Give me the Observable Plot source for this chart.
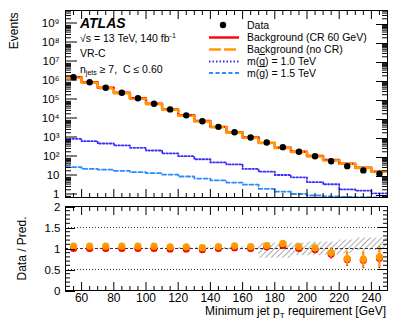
<!DOCTYPE html>
<html><head><meta charset="utf-8">
<script src="https://cdn.jsdelivr.net/npm/d3@7"></script>
<script src="https://cdn.jsdelivr.net/npm/@observablehq/plot@0.6"></script>
<style>
body{margin:0;background:#fff}
#wrap{position:relative;width:407px;height:325px;font-family:"Liberation Sans",Arial,Helvetica,sans-serif;color:#000;overflow:hidden}
#wrap svg{position:absolute;left:0}
.abs{position:absolute;white-space:nowrap;line-height:1}
</style></head><body><div id="wrap"></div>
<script>
// ---- data ----
const binEdges = [50,60,70,80,90,100,110,120,130,140,150,160,170,180,190,200,210,220,230,240,250];
const binCenters = [55,65,75,85,95,105,115,125,135,145,155,165,175,185,195,205,215,225,235,245];
const dataVals = [1.68e6,9.2e5,4.7e5,2.55e5,1.32e5,6.7e4,3.4e4,1.65e4,8.1e3,4.1e3,2.15e3,1.13e3,615,350,200,117,64,35,21,14];
const bgRed    = [1.68e6,9.2e5,4.7e5,2.55e5,1.32e5,6.7e4,3.43e4,1.67e4,8.3e3,4.1e3,2.1e3,1.13e3,590,327,200,120,74,47,29,18];
const bgOrange = [1.6e6,8.7e5,4.45e5,2.42e5,1.25e5,6.35e4,3.27e4,1.59e4,7.95e3,3.92e3,2.02e3,1.08e3,575,312,191,115,71,46,28,17.5];
const sig10    = [960,720,545,430,325,234,163,117,81,55,43,25,18,12,9,5,3.9,2.1,1.8,1.3];
const sig15    = [31,25,23,20,17,15,12.7,10,7.8,6.2,4.8,3.7,2.25,1.6,1.2,1.0,0.9,0.85,0.82,0.8];
const ratioRed    = [1.0,1.0,1.0,1.0,1.0,1.0,0.99,0.99,0.975,1.0,1.02,1.0,1.04,1.07,1.0,0.975,0.87,0.74,0.72,0.77];
const ratioOrange = [1.055,1.055,1.055,1.055,1.055,1.055,1.04,1.04,1.02,1.047,1.063,1.047,1.07,1.12,1.047,1.015,0.905,0.76,0.745,0.80];
const ratioErr    = [0.001,0.001,0.002,0.002,0.003,0.004,0.006,0.008,0.011,0.016,0.022,0.03,0.04,0.054,0.07,0.09,0.12,0.17,0.2,0.25];
const bandLo = [0.995,0.995,0.994,0.992,0.99,0.988,0.985,0.98,0.975,0.97,0.965,0.96,0.77,0.77,0.83,0.83,0.85,0.88,0.95,0.95];
const bandHi = [1.005,1.005,1.006,1.008,1.01,1.012,1.015,1.02,1.025,1.03,1.035,1.04,1.13,1.13,1.13,1.15,1.15,1.2,1.25,1.25];
const yMajorTop = [1,10,1e2,1e3,1e4,1e5,1e6,1e7,1e8,1e9];
const yMinorTop = [0.8,0.9,2,3,4,5,6,7,8,9,20,30,40,50,60,70,80,90,200,300,400,500,600,700,800,900,2e3,3e3,4e3,5e3,6e3,7e3,8e3,9e3,2e4,3e4,4e4,5e4,6e4,7e4,8e4,9e4,2e5,3e5,4e5,5e5,6e5,7e5,8e5,9e5,2e6,3e6,4e6,5e6,6e6,7e6,8e6,9e6,2e7,3e7,4e7,5e7,6e7,7e7,8e7,9e7,2e8,3e8,4e8,5e8,6e8,7e8,8e8,9e8,2e9,3e9,4e9,5e9];
const yTopLabels = ["1","10","10\u00B2","10\u00B3","10\u2074","10\u2075","10\u2076","10\u2077","10\u2078","10\u2079"];
const xMajor = [60,80,100,120,140,160,180,200,220,240];
const xMinor = [50,55,65,70,75,85,90,95,105,110,115,125,130,135,145,150,155,165,170,175,185,190,195,205,210,215,225,230,235,245,250];
const yMajorRatio = [0,0.5,1,1.5,2];
const yRatioLabels = ["0","0.5","1","1.5","2"];
const yMinorRatio = [0.1,0.2,0.3,0.4,0.6,0.7,0.8,0.9,1.1,1.2,1.3,1.4,1.6,1.7,1.8,1.9];

const RED = "#ff0000", ORANGE = "#ff9900", BLUE = "#3b2bff", LBLUE = "#2b8cff";

const rows = binCenters.map((c,i)=>({c, lo:binEdges[i], hi:binEdges[i+1], data:dataVals[i], red:bgRed[i], orange:bgOrange[i], s1:sig10[i], s2:sig15[i], rr:ratioRed[i], ro:ratioOrange[i], err:ratioErr[i], bl:bandLo[i], bh:bandHi[i]}));
function steps(key){ const p = rows.map(r=>({x:r.lo, y:r[key]})); const l = rows[rows.length-1]; p.push({x:l.hi, y:l[key]}); return p; }
const blank = () => "";
const font = {fontFamily:'"Liberation Sans",Arial,Helvetica,sans-serif', fontSize:"12px", background:"transparent", overflow:"visible"};

const topPlot = Plot.plot({
  width:407, height:200, marginLeft:65, marginRight:20, marginTop:10, marginBottom:3,
  style: font,
  x:{domain:[50,250]},
  y:{type:"log", domain:[0.785, 5.46e9]},
  marks:[
    Plot.line(steps("s2"), {x:"x", y:"y", curve:"step-after", stroke:LBLUE, strokeWidth:1.8, strokeDasharray:"4,2.5", clip:true}),
    Plot.line(steps("s1"), {x:"x", y:"y", curve:"step-after", stroke:BLUE, strokeWidth:1.8, strokeDasharray:"1.5,2", clip:true}),
    Plot.line(steps("red"), {x:"x", y:"y", curve:"step-after", stroke:RED, strokeWidth:2.4, clip:true}),
    Plot.line(steps("orange"), {x:"x", y:"y", curve:"step-after", stroke:ORANGE, strokeWidth:2.4, strokeDasharray:"12,3", clip:true}),
    Plot.dot(rows, {x:"c", y:"data", r:3.2, fill:"black", stroke:null}),
    Plot.axisY({anchor:"left", ticks:yMajorTop, tickSize:-12, tickPadding:18, dy:-1.5, fontSize:11.5, tickFormat:(d)=>yTopLabels[yMajorTop.indexOf(d)], label:null}),
    Plot.axisY({anchor:"left", ticks:yMinorTop, tickSize:-6, tickFormat:blank, label:null}),
    Plot.axisY({anchor:"right", ticks:yMajorTop, tickSize:-12, tickFormat:blank, label:null}),
    Plot.axisY({anchor:"right", ticks:yMinorTop, tickSize:-6, tickFormat:blank, label:null}),
    Plot.axisX({anchor:"bottom", ticks:xMajor, tickSize:-8, tickFormat:blank, label:null}),
    Plot.axisX({anchor:"bottom", ticks:xMinor, tickSize:-4, tickFormat:blank, label:null}),
    Plot.axisX({anchor:"top", ticks:xMajor, tickSize:-8, tickFormat:blank, label:null}),
    Plot.axisX({anchor:"top", ticks:xMinor, tickSize:-4, tickFormat:blank, label:null}),
    Plot.frame({stroke:"black", strokeWidth:1}),
    Plot.text(["Events"], {frameAnchor:"top-left", dx:-51, dy:2, rotate:-90, textAnchor:"end", lineAnchor:"middle", fontSize:12})
  ]
});
topPlot.style.top = "0px";

const bottomPlot = Plot.plot({
  width:407, height:125, marginLeft:65, marginRight:20, marginTop:6, marginBottom:35,
  style: font,
  x:{domain:[50,250]},
  y:{domain:[0,2]},
  marks:[
    Plot.rect(rows, {x1:"lo", x2:"hi", y1:"bl", y2:"bh", fill:"url(#hatch)"}),
    Plot.ruleY([0.5,1.5], {stroke:"#333", strokeWidth:1, strokeDasharray:"1,2"}),
    Plot.ruleY([1], {stroke:"#333", strokeWidth:1, strokeDasharray:"3,2"}),
    Plot.ruleX(rows, {x:"c", y1:r=>r.rr-r.err, y2:r=>r.rr+r.err, stroke:RED, strokeWidth:1.6}),
    Plot.dot(rows, {x:"c", y:"rr", r:3.6, fill:RED, stroke:null}),
    Plot.ruleX(rows, {x:"c", y1:r=>r.ro-r.err, y2:r=>r.ro+r.err, stroke:ORANGE, strokeWidth:1.6}),
    Plot.dot(rows, {x:"c", y:"ro", r:3.6, fill:ORANGE, stroke:null}),
    Plot.axisY({anchor:"left", ticks:yMajorRatio, tickSize:-10, tickPadding:15, dy:1, fontSize:11.5, tickFormat:d=>yRatioLabels[yMajorRatio.indexOf(d)], label:null}),
    Plot.axisY({anchor:"left", ticks:yMinorRatio, tickSize:-5, tickFormat:blank, label:null}),
    Plot.axisY({anchor:"right", ticks:yMajorRatio, tickSize:-10, tickFormat:blank, label:null}),
    Plot.axisY({anchor:"right", ticks:yMinorRatio, tickSize:-5, tickFormat:blank, label:null}),
    Plot.axisX({anchor:"bottom", ticks:xMajor, tickSize:-8, tickPadding:11, tickFormat:d=>String(d), label:null}),
    Plot.axisX({anchor:"bottom", ticks:xMinor, tickSize:-4, tickFormat:blank, label:null}),
    Plot.axisX({anchor:"top", ticks:xMajor, tickSize:-8, tickFormat:blank, label:null}),
    Plot.axisX({anchor:"top", ticks:xMinor, tickSize:-4, tickFormat:blank, label:null}),
    Plot.frame({stroke:"black", strokeWidth:1}),
    Plot.text(["Data / Pred."], {frameAnchor:"left", dx:-43, dy:0, rotate:-90, textAnchor:"middle", lineAnchor:"middle", fontSize:12})
  ]
});
bottomPlot.style.top = "200px";
const ns = "http://www.w3.org/2000/svg";
const defs = document.createElementNS(ns, "defs");
defs.innerHTML = '<pattern id="hatch" patternUnits="userSpaceOnUse" width="4" height="4" patternTransform="rotate(45)"><line x1="0" y1="0" x2="0" y2="4" stroke="#444" stroke-width="0.9"/></pattern>';
bottomPlot.insertBefore(defs, bottomPlot.firstChild);

const wrap = document.getElementById("wrap");
wrap.appendChild(topPlot);
wrap.appendChild(bottomPlot);

const html = `
<div class="abs" style="left:80px;top:16px;font-size:14px;font-weight:bold;font-style:italic">ATLAS</div>
<div class="abs" style="left:80px;top:32px;font-size:10.5px">\u221As = 13 TeV, 140 fb<sup style="font-size:7px;vertical-align:4px">-1</sup></div>
<div class="abs" style="left:80px;top:48px;font-size:10.5px">VR-C</div>
<div class="abs" style="left:80px;top:64px;font-size:10.5px">n<sub style="font-size:7px;vertical-align:-2px">jets</sub> \u2265 7,&nbsp; C \u2264 0.60</div>
<svg width="407" height="90" style="position:absolute;left:0;top:0">
  <circle cx="223" cy="25" r="3.2" fill="black"/>
  <line x1="209" x2="239" y1="37.5" y2="37.5" stroke="${RED}" stroke-width="2.4"/>
  <line x1="209" x2="239" y1="49.5" y2="49.5" stroke="${ORANGE}" stroke-width="2.4" stroke-dasharray="12,3"/>
  <line x1="209" x2="239" y1="61.5" y2="61.5" stroke="${BLUE}" stroke-width="1.8" stroke-dasharray="1.5,2"/>
  <line x1="209" x2="239" y1="73" y2="73" stroke="${LBLUE}" stroke-width="1.8" stroke-dasharray="4,2.5"/>
</svg>
<div class="abs" style="left:247px;top:20px;font-size:10.5px">Data</div>
<div class="abs" style="left:247px;top:32px;font-size:10.5px">Background (CR 60 GeV)</div>
<div class="abs" style="left:247px;top:44px;font-size:10.5px">Background (no CR)</div>
<div class="abs" style="left:247px;top:56px;font-size:10.5px">m(<span style="text-decoration:overline">g</span>) = 1.0 TeV</div>
<div class="abs" style="left:247px;top:68px;font-size:10.5px">m(<span style="text-decoration:overline">g</span>) = 1.5 TeV</div>
<div class="abs" style="right:21px;top:305px;font-size:12px">Minimum jet p<sub style="font-size:8px;vertical-align:-3px">T</sub> requirement [GeV]</div>
`;
wrap.insertAdjacentHTML("beforeend", html);
</script>
</body></html>
